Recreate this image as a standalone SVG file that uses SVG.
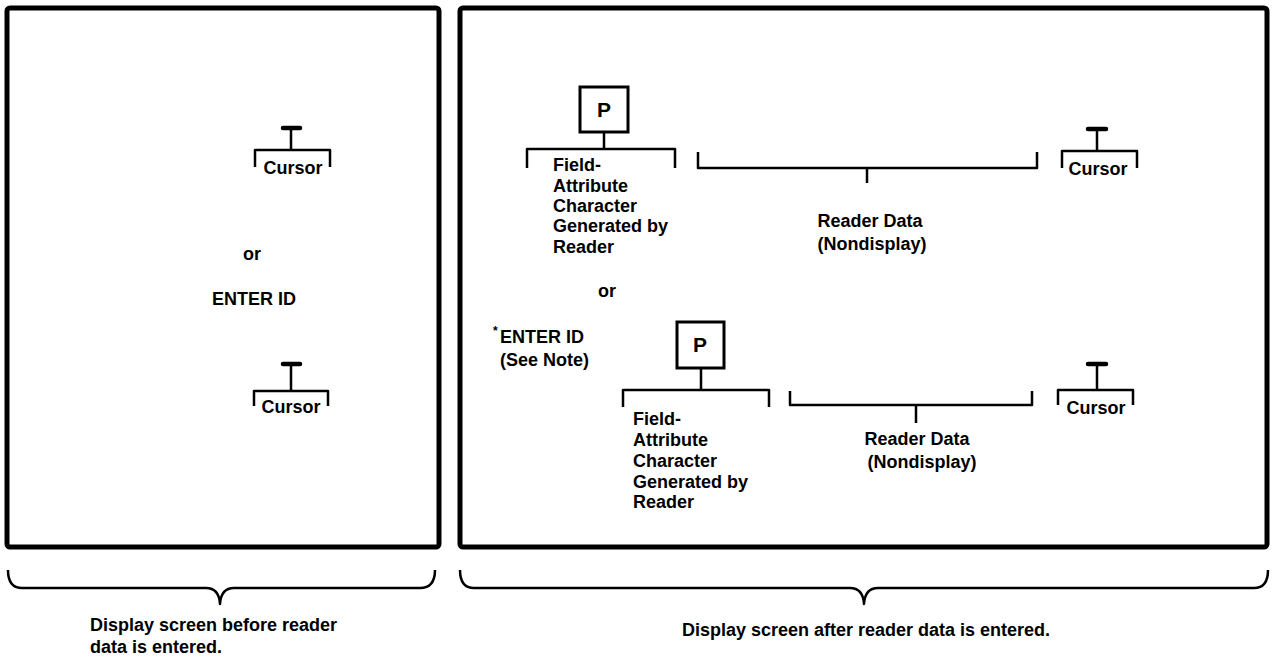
<svg xmlns="http://www.w3.org/2000/svg" width="1275" height="659" viewBox="0 0 1275 659">
<style>
  .frame { fill: none; stroke: #000; stroke-width: 5; }
  .br { fill: none; stroke: #000; stroke-width: 2.5; stroke-linejoin: round; }
  .dash { stroke: #000; stroke-width: 4.5; stroke-linecap: round; }
  .box { fill: #fff; stroke: #000; stroke-width: 3; }
  text { font-family: "Liberation Sans", Arial, Helvetica, sans-serif; font-weight: bold; font-size: 18px; fill: #000; }
  .c { text-anchor: middle; }
  .p { font-size: 21px; }
</style>
<rect width="1275" height="659" fill="#fff"/>

<g id="screen-before">
  <rect class="frame" x="7" y="8" width="432" height="539" rx="3"/>
</g>
<g id="screen-after">
  <rect class="frame" x="460" y="8" width="807" height="539" rx="3"/>
</g>

<!-- Left panel -->
<g id="left-cursor-1">
  <line class="dash" x1="283" y1="128" x2="300" y2="128"/>
  <path class="br" d="M291,130 V150 M255,167 V150 H330 V167"/>
  <text class="c" x="293" y="174">Cursor</text>
</g>
<g id="left-or"><text class="c" x="252" y="260">or</text></g>
<g id="left-enter-id"><text class="c" x="254" y="305">ENTER ID</text></g>
<g id="left-cursor-2">
  <line class="dash" x1="283" y1="364" x2="300" y2="364"/>
  <path class="br" d="M291,366 V391 M254,406 V391 H328 V406"/>
  <text class="c" x="291" y="413">Cursor</text>
</g>

<!-- Right panel, row 1 -->
<g id="fa-char-1">
  <rect class="box" x="580" y="87" width="48" height="45"/>
  <text class="c p" x="604" y="117">P</text>
  <path class="br" d="M604,132 V149 M527,168 V149 H675 V168"/>
  <text x="553" y="171">Field-</text>
  <text x="553" y="192">Attribute</text>
  <text x="553" y="212">Character</text>
  <text x="553" y="232">Generated by</text>
  <text x="553" y="253">Reader</text>
</g>
<g id="right-or"><text class="c" x="607" y="297">or</text></g>
<g id="reader-data-1">
  <path class="br" d="M698,152 V168 H1037 V152 M867,168 V183"/>
  <text class="c" x="870" y="227">Reader Data</text>
  <text class="c" x="872" y="250">(Nondisplay)</text>
</g>
<g id="right-cursor-1">
  <line class="dash" x1="1088" y1="129" x2="1106" y2="129"/>
  <path class="br" d="M1097,131 V151 M1062,168 V151 H1137 V168"/>
  <text class="c" x="1098" y="175">Cursor</text>
</g>

<!-- Right panel, row 2 -->
<g id="enter-id-note">
  <text x="493" y="335" style="font-size:12px">*</text>
  <text x="500" y="343">ENTER ID</text>
  <text x="500" y="366">(See Note)</text>
</g>
<g id="fa-char-2">
  <rect class="box" x="677" y="322" width="47" height="46"/>
  <text class="c p" x="700" y="352">P</text>
  <path class="br" d="M701,368 V390 M623,407 V390 H769 V407"/>
  <text x="633" y="425">Field-</text>
  <text x="633" y="446">Attribute</text>
  <text x="633" y="467">Character</text>
  <text x="633" y="488">Generated by</text>
  <text x="633" y="508">Reader</text>
</g>
<g id="reader-data-2">
  <path class="br" d="M790,391 V405 H1032 V391 M916,405 V423"/>
  <text class="c" x="917" y="445">Reader Data</text>
  <text class="c" x="922" y="468">(Nondisplay)</text>
</g>
<g id="right-cursor-2">
  <line class="dash" x1="1088" y1="364" x2="1106" y2="364"/>
  <path class="br" d="M1097,366 V390 M1058,405 V390 H1133 V405"/>
  <text class="c" x="1096" y="414">Cursor</text>
</g>

<!-- Bottom braces and captions -->
<g id="connectors">
  <path class="br" d="M8,570 Q8,588 22,588 H206 Q219,588 220,604 Q221,588 234,588 H420 Q435,588 435,570"/>
  <path class="br" d="M460,570 Q460,588 474,588 H850 Q863,588 864,604 Q865,588 878,588 H1254 Q1268,588 1268,570"/>
</g>
<g id="caption-before">
  <text x="90" y="631">Display screen before reader</text>
  <text x="90" y="653">data is entered.</text>
</g>
<g id="caption-after">
  <text class="c" x="866" y="636">Display screen after reader data is entered.</text>
</g>
</svg>
